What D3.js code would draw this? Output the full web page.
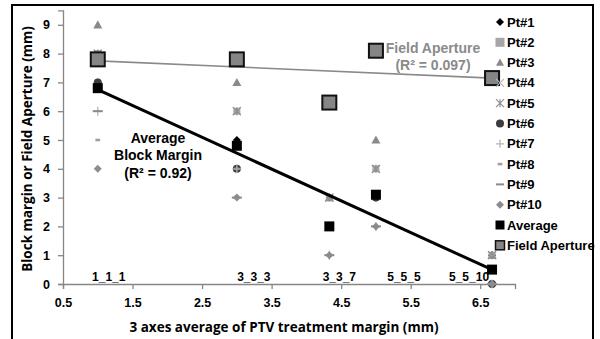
<!DOCTYPE html>
<html>
<head>
<meta charset="utf-8">
<script src="https://cdn.jsdelivr.net/npm/d3@7"></script>
<style>
  html, body { margin: 0; padding: 0; background: #fff; }
  svg { display: block; font-family: "Liberation Sans", Arial, sans-serif; }
</style>
</head>
<body>
<svg id="chart" width="600" height="339"></svg>
<script>
// Plan names and their 3-axis average PTV margin (mm)
const plans = ["1_1_1", "3_3_3", "3_3_7", "5_5_5", "5_5_10"];
const planMargin = [1, 3, 4.33, 5, 6.67];

// Block margin (mm) per patient, one value per plan
const pt1  = [7, 5, 2, 3, 1];
const pt2  = [8, 6, 3, 4, 1];
const pt3  = [9, 7, 3, 5, 1];
const pt4  = [8, 6, 3, 4, 1];
const pt5  = [8, 6, 3, 4, 1];
const pt6  = [7, 4, 2, 3, 0];
const pt7  = [6, 4, 1, 2, 0];
const pt8  = [5, 4, 1, 2, 0];
const pt9  = [6, 3, 1, 2, 0];
const pt10 = [4, 3, 1, 2, 0];

const averageMargin = [6.8, 4.8, 2.0, 3.1, 0.5];
const fieldAperture = [7.8, 7.8, 6.3, 8.1, 7.15];

const xTicks = [0.5, 1.5, 2.5, 3.5, 4.5, 5.5, 6.5];
const yTicks = [0, 1, 2, 3, 4, 5, 6, 7, 8, 9];

const svg = d3.select("#chart");
const axisGray = "#868686";

// outer chart frame
svg.append("rect").attr("x", 12).attr("y", 5).attr("width", 581).attr("height", 345)
  .attr("fill", "none").attr("stroke", "#000").attr("stroke-width", 2);

const x = d3.scaleLinear().domain([0.5, 7.0]).range([63, 515]);
const y = d3.scaleLinear().domain([0, 9.5]).range([284, 10.4]);

// axes
const xAxis = svg.append("g").attr("transform", `translate(0,${y(0)})`)
  .call(d3.axisBottom(x).tickValues(xTicks).tickFormat(d3.format(".1f")).tickSize(5).tickPadding(9));
const yAxis = svg.append("g").attr("transform", `translate(${x(0.5)},0)`)
  .call(d3.axisLeft(y).tickValues(yTicks).tickFormat(d3.format("d")).tickSize(5).tickPadding(8));
[xAxis, yAxis].forEach(g => {
  g.selectAll("path, line").attr("stroke", axisGray).attr("stroke-width", 1.3);
  g.selectAll("text").attr("fill", "#000").attr("font-size", 12.5).attr("font-weight", "bold")
    .attr("font-family", "'Liberation Sans', Arial, sans-serif");
});

// axis titles
svg.append("text").attr("x", 284).attr("y", 332).attr("text-anchor", "middle")
  .attr("font-size", 13.5).attr("font-weight", "bold")
  .attr("font-family", "'Open Sans', 'Liberation Sans', sans-serif")
  .text("3 axes average of PTV treatment margin (mm)");
svg.append("text").attr("transform", "translate(32,149) rotate(-90)").attr("text-anchor", "middle")
  .attr("font-size", 13.5).attr("font-weight", "bold")
  .attr("font-family", "'Open Sans', 'Liberation Sans', sans-serif")
  .text("Block margin or Field Aperture (mm)");

// plan name labels above the x axis
const planLabelDx = [11, 17, 10, 28, -23];
svg.append("g").selectAll("text").data(plans).join("text")
  .attr("x", (d, i) => x(planMargin[i]) + planLabelDx[i]).attr("y", 281)
  .attr("text-anchor", "middle").attr("font-size", 12).attr("font-weight", "bold")
  .text(d => d);

// marker shapes
function marker(g, kind, color, size) {
  const s = size;
  switch (kind) {
    case "diamond":
      g.append("path").attr("d", `M0,${-s}L${s},0L0,${s}L${-s},0Z`).attr("fill", color); break;
    case "square":
      g.append("rect").attr("x", -s).attr("y", -s).attr("width", 2 * s).attr("height", 2 * s).attr("fill", color); break;
    case "triangle":
      g.append("path").attr("d", `M0,${-s}L${s},${s * 0.8}L${-s},${s * 0.8}Z`).attr("fill", color); break;
    case "x":
      g.append("path").attr("d", `M${-s},${-s}L${s},${s}M${-s},${s}L${s},${-s}`).attr("stroke", color).attr("stroke-width", 1.2); break;
    case "star":
      g.append("path").attr("d", `M${-s},${-s}L${s},${s}M${-s},${s}L${s},${-s}M0,${-s}L0,${s}`).attr("stroke", color).attr("stroke-width", 1.2); break;
    case "circle":
      g.append("circle").attr("r", s).attr("fill", color); break;
    case "plus":
      g.append("path").attr("d", `M${-s},0L${s},0M0,${-s}L0,${s}`).attr("stroke", color).attr("stroke-width", 1.3); break;
    case "dash":
      g.append("rect").attr("x", -s * 0.6).attr("y", -1.3).attr("width", s * 1.2).attr("height", 2.6).attr("fill", color); break;
    case "longdash":
      g.append("rect").attr("x", -s).attr("y", -1).attr("width", 2 * s).attr("height", 2).attr("fill", color); break;
    case "fa":
      g.append("rect").attr("x", -s).attr("y", -s).attr("width", 2 * s).attr("height", 2 * s)
        .attr("fill", "#858585").attr("stroke", "#111").attr("stroke-width", 2); break;
  }
}

const patientSeries = [
  { name: "Pt#1", values: pt1, kind: "diamond", color: "#000000", size: 4 },
  { name: "Pt#2", values: pt2, kind: "square", color: "#a6a6a6", size: 3.5 },
  { name: "Pt#3", values: pt3, kind: "triangle", color: "#8a8a8a", size: 4.5 },
  { name: "Pt#4", values: pt4, kind: "x", color: "#b8b8b8", size: 4 },
  { name: "Pt#5", values: pt5, kind: "star", color: "#8f8f8f", size: 4 },
  { name: "Pt#6", values: pt6, kind: "circle", color: "#3c3c3c", size: 4 },
  { name: "Pt#7", values: pt7, kind: "plus", color: "#b5b5b5", size: 4.5 },
  { name: "Pt#8", values: pt8, kind: "dash", color: "#a0a0a0", size: 4 },
  { name: "Pt#9", values: pt9, kind: "longdash", color: "#8a8a8a", size: 5 },
  { name: "Pt#10", values: pt10, kind: "diamond", color: "#8c8c8c", size: 4 }
];
const averageSeries = { name: "Average", values: averageMargin, kind: "square", color: "#000", size: 5 };
const faSeries = { name: "Field Aperture", values: fieldAperture, kind: "fa", color: "#858585", size: 7 };

function drawSeries(s) {
  const g = svg.append("g");
  s.values.forEach((v, i) => {
    const m = g.append("g").attr("transform", `translate(${x(planMargin[i])},${y(v)})`);
    marker(m, s.kind, s.color, s.size);
  });
}
patientSeries.forEach(drawSeries);

// least-squares trend lines
function linearFit(xs, ys) {
  const n = xs.length, mx = d3.mean(xs), my = d3.mean(ys);
  let sxy = 0, sxx = 0;
  for (let i = 0; i < n; i++) { sxy += (xs[i] - mx) * (ys[i] - my); sxx += (xs[i] - mx) ** 2; }
  const b = sxy / sxx, a = my - b * mx;
  return t => a + b * t;
}
const xExt = d3.extent(planMargin);
const avgFit = linearFit(planMargin, averageMargin);
const faFit = linearFit(planMargin, fieldAperture);
const line = d3.line().x(d => x(d[0])).y(d => y(d[1]));
svg.append("path").attr("d", line(xExt.map(t => [t, faFit(t)])))
  .attr("fill", "none").attr("stroke", "#8a8a8a").attr("stroke-width", 1.6);
svg.append("path").attr("d", line(xExt.map(t => [t, avgFit(t)])))
  .attr("fill", "none").attr("stroke", "#000").attr("stroke-width", 3);

drawSeries(averageSeries);
drawSeries(faSeries);

// trend annotations
const ann = svg.append("g").attr("font-weight", "bold").attr("font-size", 14).attr("text-anchor", "middle");
ann.append("text").attr("x", 158).attr("y", 143).text("Average");
ann.append("text").attr("x", 158).attr("y", 160).text("Block Margin");
ann.append("text").attr("x", 158).attr("y", 178).text("(R² = 0.92)");
ann.append("text").attr("x", 433).attr("y", 53).attr("fill", "#8a8a8a").text("Field Aperture");
ann.append("text").attr("x", 433).attr("y", 70).attr("fill", "#8a8a8a").text("(R² = 0.097)");

// legend
const legendSeries = patientSeries.concat([averageSeries, faSeries]);
const lg = svg.append("g");
legendSeries.forEach((s, i) => {
  const row = lg.append("g").attr("transform", `translate(500,${22 + i * 20.3})`);
  const m = row.append("g");
  const legendSize = s.kind === "fa" ? 4.5 : (s.kind === "square" ? 4.5 : 4);
  marker(m, s.kind, s.color, legendSize);
  if (s.kind === "fa") m.select("rect").attr("stroke-width", 1.5);
  row.append("text").attr("x", 7).attr("y", 4.5).attr("font-size", 13).attr("font-weight", "bold").text(s.name);
});
</script>
</body>
</html>
